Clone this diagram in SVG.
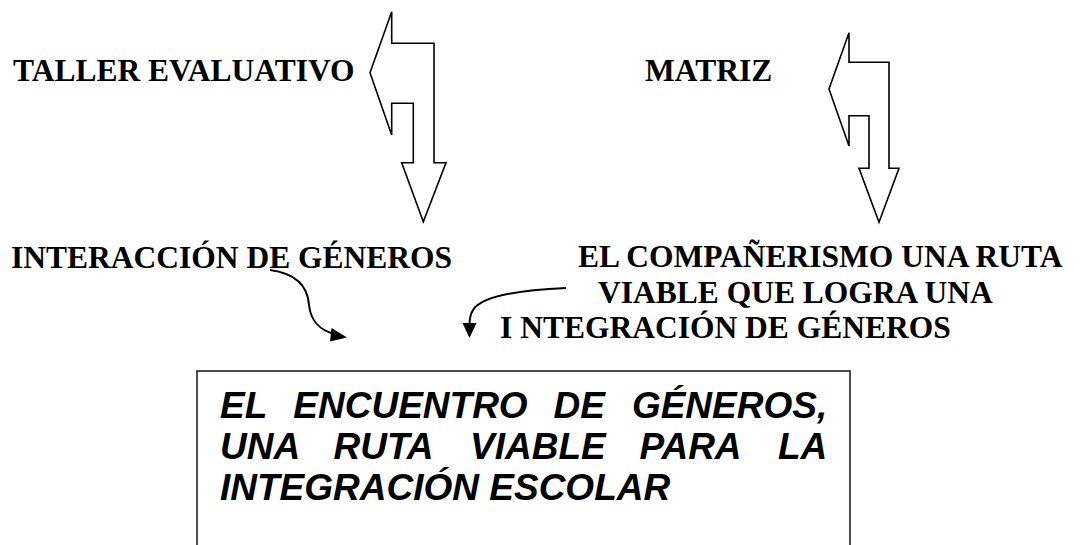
<svg xmlns="http://www.w3.org/2000/svg" width="1081" height="545" viewBox="0 0 1081 545">
<style>
.lbl{font-family:"Liberation Serif","Times New Roman",serif;font-weight:bold;font-size:31.5px;fill:#000}
.box{font-family:"Liberation Sans",Arial,sans-serif;font-weight:bold;font-style:italic;font-size:37px;fill:#000}
.bent{fill:#fff;stroke:#000;stroke-width:1.6;stroke-linejoin:miter}
.curve{fill:none;stroke:#000;stroke-width:2}
.head{fill:#000;stroke:none}
</style>
<rect width="1081" height="545" fill="#fff"/>
<g id="taller">
<text class="lbl" x="13" y="81">TALLER EVALUATIVO</text>
</g>
<g id="matriz">
<text class="lbl" x="645" y="81">MATRIZ</text>
</g>
<g id="interaccion">
<text class="lbl" x="11" y="268">INTERACCIÓN DE GÉNEROS</text>
</g>
<g id="companerismo">
<text class="lbl" x="578" y="267">EL COMPAÑERISMO UNA RUTA</text>
<text class="lbl" x="598" y="303">VIABLE QUE LOGRA UNA</text>
<text class="lbl" x="500" y="338">I NTEGRACIÓN DE GÉNEROS</text>
</g>
<g id="encuentro">
<rect x="197" y="371" width="653" height="200" fill="#fff" stroke="#222" stroke-width="1.6"/>
<text class="box" y="418"><tspan x="220">EL</tspan><tspan x="293.3">ENCUENTRO</tspan><tspan x="553.6">DE</tspan><tspan x="631.9">GÉNEROS,</tspan></text>
<text class="box" y="459"><tspan x="220">UNA</tspan><tspan x="333.5">RUTA</tspan><tspan x="470">VIABLE</tspan><tspan x="639.5">PARA</tspan><tspan x="778">LA</tspan></text>
<text class="box" x="220" y="500">INTEGRACIÓN ESCOLAR</text>
</g>
<g id="connectors">
<polygon class="bent" points="391.7,11.7 370,72.7 391.7,135 391.7,103.3 413.3,103.3 413.3,162.7 401.7,162.7 423.3,221.7 446,162.7 434,162.7 434,43.3 391.7,43.3"/>
<polygon class="bent" points="849,32.7 829,89 849,146 849,115.7 869,115.7 869,168.3 859,168.3 879,222.3 899,168.3 889,168.3 889,62.3 849,62.3"/>
<path class="curve" d="M270,270 C300,274 308,290 309,305 C311,322 320,330 334,334"/>
<polygon class="head" points="347,337.5 331.5,328 330,341.5"/>
<path class="curve" d="M566,288 C520,290 482,296 473,310 C470,315 469.5,320 469.5,325"/>
<polygon class="head" points="469.5,338 462.5,323 476.5,323"/>
</g>
</svg>
